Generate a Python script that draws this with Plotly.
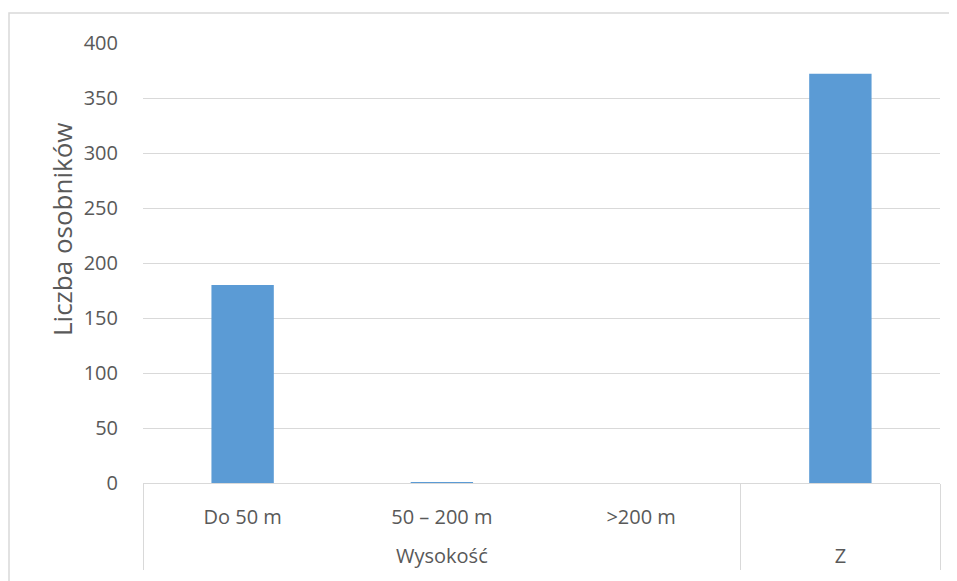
import plotly.graph_objects as go

groups = ["Wysokość", "Wysokość", "Wysokość", "Z"]
categories = ["Do 50 m", "50 – 200 m", ">200 m", " "]
values = [180, 0.6, 0, 372]
y_ticks = [0, 50, 100, 150, 200, 250, 300, 350, 400]
y_title = "Liczba osobników"

# page is drawn with an 8px body margin; compensate so page pixels match
OFF = 8
W, H = 957 - OFF, 581 - OFF
L, T = 143 - OFF, 43 - OFF
pw, ph = 797, 440
R, B = W - L - pw, H - T - ph

def px_x(p):
    return (p - OFF - L) / pw

def px_y(p):
    return (T + ph - (p - OFF)) / ph

FONT = "Open Sans"
GREY = "#595959"
LINE = "#d9d9d9"

# add an empty line under each first-level label to space the group labels
cat_labels = [c + "<br> " for c in categories]

fig = go.Figure()
fig.add_trace(go.Bar(
    x=[groups, cat_labels],
    y=values,
    marker=dict(color="#5b9bd5", line=dict(width=0)),
    hoverinfo="skip",
))

fig.update_layout(
    width=W, height=H,
    margin=dict(l=L, r=R, t=T, b=B, pad=0),
    paper_bgcolor="white",
    plot_bgcolor="white",
    bargap=0.687,
    showlegend=False,
    font=dict(family=FONT, size=20, color=GREY),
    xaxis=dict(
        type="multicategory",
        showgrid=False,
        showline=True,
        linecolor=LINE,
        linewidth=1,
        showdividers=True,
        dividercolor=LINE,
        dividerwidth=1,
        ticks="",
        ticklabelstandoff=16,
        tickfont=dict(family=FONT, size=20, color=GREY),
        zeroline=False,
    ),
    yaxis=dict(
        range=[0, 400],
        tickvals=y_ticks,
        showgrid=True,
        gridcolor=LINE,
        gridwidth=1,
        zeroline=False,
        showline=False,
        ticks="",
        ticklabelstandoff=24,
        tickfont=dict(family=FONT, size=20, color=GREY),
    ),
    annotations=[dict(
        text=y_title, textangle=-90,
        xref="paper", yref="paper",
        x=px_x(62), y=px_y(230),
        xanchor="center", yanchor="middle",
        showarrow=False,
        font=dict(family=FONT, size=26, color=GREY),
    )],
    shapes=[dict(
        type="rect", xref="paper", yref="paper",
        x0=px_x(9), x1=px_x(957 + 20), y0=px_y(581 + 20), y1=px_y(13),
        line=dict(color=LINE, width=1.5), fillcolor="rgba(0,0,0,0)",
        layer="below",
    )],
)

fig.write_html("out.html")
